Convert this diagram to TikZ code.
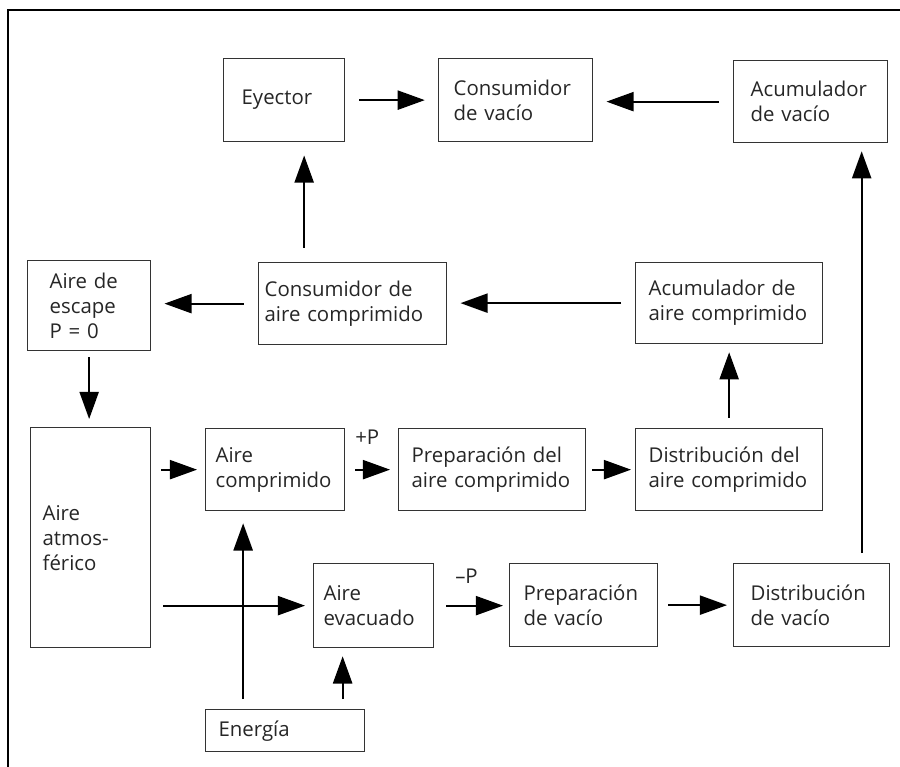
\documentclass[tikz,border=0pt]{standalone}
\usepackage{fontspec}
\setmainfont{Open Sans}
\usetikzlibrary{arrows.meta}

\tikzset{
  blk/.style={draw=black!80, line width=0.9pt, inner xsep=0.375cm, inner ysep=0pt,
    align=left, anchor=north west, text=black!85,
    font=\fontsize{14.5}{17.8}\selectfont},
  lbl/.style={inner sep=0pt, text=black!85, font=\fontsize{14.5}{17.8}\selectfont},
  flow/.style={-{Triangle[length=0.68cm,width=0.48cm]}, line width=1.3pt,
    shorten <=0.25cm, shorten >=0.2cm},
  wide/.style={shorten <=0.35cm, shorten >=0.33cm},
}

\begin{document}
\begin{tikzpicture}[x=0.025cm, y=-0.025cm]
  \useasboundingbox (0,0) rectangle (900,767);

  % outer frame, cut on the right and at the bottom
  \draw[line width=1.8pt] (8,767) -- (8,10) -- (900,10);

  % top row: vacuum consumers
  \node[blk, inner xsep=0.45cm, text width=2.125cm, minimum height=2.075cm] (eyector) at (223,58) {Eyector};
  \node[blk, text width=3.1cm, minimum height=2.075cm] (consvac) at (438,58) {Consumidor\\de vacío};
  \node[blk, inner xsep=0.425cm, text width=3.0cm, minimum height=2.05cm] (acumvac) at (733,60) {Acumulador\\de vacío};

  % second row: compressed air use
  \node[blk, inner xsep=0.55cm, text width=1.975cm, minimum height=2.25cm] (escape) at (27,260) {Aire de\\escape\\P = 0};
  \node[blk, inner xsep=0.15cm, text width=4.4cm, minimum height=2.05cm] (consaire) at (258,262) {Consumidor de\\aire comprimido};
  \node[blk, inner xsep=0.325cm, text width=4.025cm, minimum height=2.025cm] (acumaire) at (635,262) {Acumulador de\\aire comprimido};

  % third row: compressed air production
  \node[blk, inner xsep=0.3cm, text width=2.4cm, minimum height=5.5cm] (atmos) at (30,427) {Aire\\atmos-\\férico};
  \node[blk, inner xsep=0.25cm, text width=2.975cm, minimum height=2.05cm] (comp) at (205,428) {Aire\\comprimido};
  \node[blk, inner xsep=0.325cm, text width=4.025cm, minimum height=2.05cm] (prepaire) at (398,428) {Preparación del\\aire comprimido};
  \node[blk, inner xsep=0.325cm, text width=4.025cm, minimum height=2.05cm] (distaire) at (635,428) {Distribución del\\aire comprimido};

  % fourth row: vacuum production
  \node[blk, inner xsep=0.25cm, text width=2.5cm, minimum height=2.1cm] (evac) at (313,563) {Aire\\evacuado};
  \node[blk, inner xsep=0.35cm, text width=3.0cm, minimum height=2.075cm] (prepvac) at (509,563) {Preparación\\de vacío};
  \node[blk, inner xsep=0.425cm, text width=3.05cm, minimum height=2.075cm] (distvac) at (733,563) {Distribución\\de vacío};

  \node[blk, inner xsep=0.325cm, text width=3.325cm, minimum height=1.05cm] (energia) at (205,709) {Energía};

  \node[lbl, anchor=west] (plusp) at (355,437) {+P};
  \node[lbl, anchor=west] (minusp) at (455,576) {\textendash P};

  \coordinate (upeye) at ([xshift=0.5cm]eyector.south);
  \coordinate (upvac) at ([xshift=1.275cm]acumvac.south);
  \coordinate (upcomp) at ([xshift=-0.8cm]comp.south);
  \coordinate (upevac) at ([xshift=-0.775cm]evac.south);

  % connectors
  \draw[flow, wide] (eyector.east) -- (consvac.west);
  \draw[flow, wide] (acumvac.west) -- (acumvac.west -| consvac.east);
  \draw[flow, wide] (consaire.north -| upeye) -- (upeye);
  \draw[flow] (distvac.north -| upvac) -- (upvac);
  \draw[flow, wide] (consaire.west) -- (consaire.west -| escape.east);
  \draw[flow, wide] (acumaire.west) -- (acumaire.west -| consaire.east);
  \draw[flow, shorten <=0.15cm] (escape.south) -- (escape.south |- atmos.north);
  \draw[flow] (comp.west -| atmos.east) -- (comp.west);
  \draw[flow] (comp.east) -- (prepaire.west);
  \draw[flow, shorten <=0.15cm, shorten >=0.1cm] (prepaire.east) -- (distaire.west);
  \draw[flow] (distaire.north) -- (acumaire.south);
  \draw[flow, shorten <=0.3cm] (evac.west -| atmos.east) -- (evac.west);
  \draw[flow, shorten >=0.3cm] (energia.north -| upcomp) -- (upcomp);
  \draw[flow] (energia.north -| upevac) -- (upevac);
  \draw[flow, shorten <=0.3cm, shorten >=0.15cm] (evac.east) -- (evac.east -| prepvac.west);
  \draw[flow, shorten >=0.15cm] (prepvac.east) -- (distvac.west);
\end{tikzpicture}
\end{document}
